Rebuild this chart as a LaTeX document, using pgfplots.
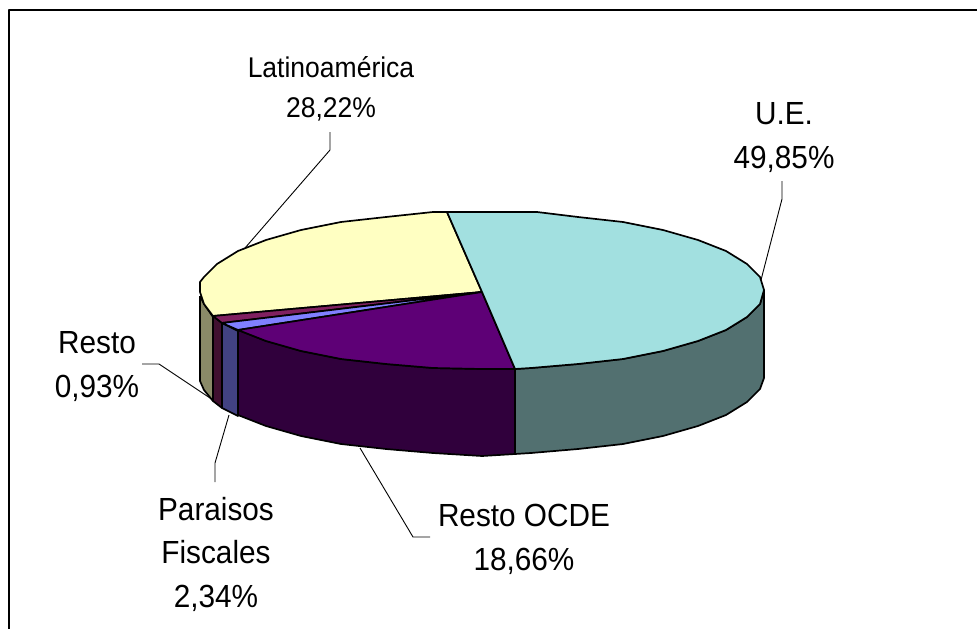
\documentclass[border=0pt]{standalone}
\usepackage{fontspec}
\setmainfont{Liberation Sans}
\usepackage{pgfplots}
\pgfplotsset{compat=1.18}
\definecolor{ueTop}{HTML}{A2E0E0}
\definecolor{ueSide}{HTML}{527070}
\definecolor{laTop}{HTML}{FFFFC2}
\definecolor{laSide}{HTML}{8A8A68}
\definecolor{ocTop}{HTML}{5E0076}
\definecolor{ocSide}{HTML}{30003C}
\definecolor{paTop}{HTML}{8080FF}
\definecolor{paSide}{HTML}{424282}
\definecolor{reTop}{HTML}{802060}
\definecolor{reSide}{HTML}{401030}
% Arial as rendered here is a little taller than it is wide
\newcommand{\lab}[3]{\node[anchor=base,inner sep=0pt,transform shape,xscale=0.93,font=\fontsize{#3}{#3}\selectfont] at (axis cs:#1) {#2};}
\begin{document}
\begin{tikzpicture}
\useasboundingbox (0,0) rectangle (977pt,629pt);
\begin{axis}[
    anchor=south west, at={(0,0)},
    scale only axis, width=977pt, height=629pt,
    xmin=0, xmax=977, ymin=0, ymax=629, y dir=reverse,
    hide axis, clip=true,
    every axis plot/.append style={draw=black, line width=1.7pt, line join=round, mark=none},
]
% frame
\addplot[draw=black, line width=1.4pt, forget plot] coordinates {(9,629) (9,10) (977,10)};

% sides, back to front
\addplot[fill=laSide] coordinates {(200,296) (204,304) (213,317) (213,401) (204,390) (200,381) (200,296)};
\addplot[fill=reSide] coordinates {(213,316) (222,323) (222,408) (213,401) (213,316)};
\addplot[fill=paSide] coordinates {(222,323) (238,331) (238,416) (222,408) (222,323)};
\addplot[fill=ocSide] coordinates {(238,330) (266,341) (301,351) (341,359) (386,364) (433,368) (482,369) (515,369)
    (515,454) (482,456) (433,453) (386,449) (341,444) (301,436) (266,426) (238,415) (238,330)};
\addplot[fill=ueSide] coordinates {(515,369) (531,368) (578,364) (623,359) (663,351) (698,341) (726,330) (747,317) (760,304) (764,290)
    (764,378) (760,389) (747,402) (726,415) (698,426) (663,436) (623,444) (578,449) (531,453) (515,454) (515,369)};

% top faces
\addplot[fill=laTop] coordinates {(482,292) (213,316) (204,304) (200,292) (200,282) (204,277) (217,264) (238,251) (266,240) (301,230) (341,222) (386,217) (433,212) (447,212) (482,292)};
\addplot[fill=reTop] coordinates {(482,292) (222,323) (213,316) (482,292)};
\addplot[fill=paTop] coordinates {(482,292) (238,330) (222,323) (482,292)};
\addplot[fill=ocTop] coordinates {(482,292) (515,369) (482,369) (433,368) (386,364) (341,359) (301,351) (266,341) (238,330) (482,292)};
\addplot[fill=ueTop] coordinates {(447,212) (537,212) (578,217) (623,222) (663,230) (698,240) (726,251) (747,264) (760,277) (764,290) (760,304) (747,317) (726,330) (698,341) (663,351) (623,359) (578,364) (531,368) (515,369) (482,292) (447,212)};

% leaders
\addplot[line width=0.9pt] coordinates {(782,181) (782,199) (761,280)};
\addplot[line width=0.9pt] coordinates {(330,132) (330,150) (245,248)};
\addplot[line width=0.9pt] coordinates {(142,364) (159,364) (213,400)};
\addplot[line width=0.9pt] coordinates {(215,482) (215,463) (229,415)};
\addplot[line width=0.9pt] coordinates {(430,537) (413,537) (360,448)};

\lab{331,77}{Latinoamérica}{28.5}
\lab{331,117}{28,22\%}{28.5}
\lab{784,124}{U.E.}{32}
\lab{784,168}{49,85\%}{32}
\lab{97,353}{Resto}{32}
\lab{97,397}{0,93\%}{32}
\lab{216,520}{Paraisos}{32}
\lab{216,563}{Fiscales}{32}
\lab{216,607}{2,34\%}{32}
\lab{524,526}{Resto OCDE}{32}
\lab{524,570}{18,66\%}{32}
\end{axis}
\end{tikzpicture}
\end{document}
